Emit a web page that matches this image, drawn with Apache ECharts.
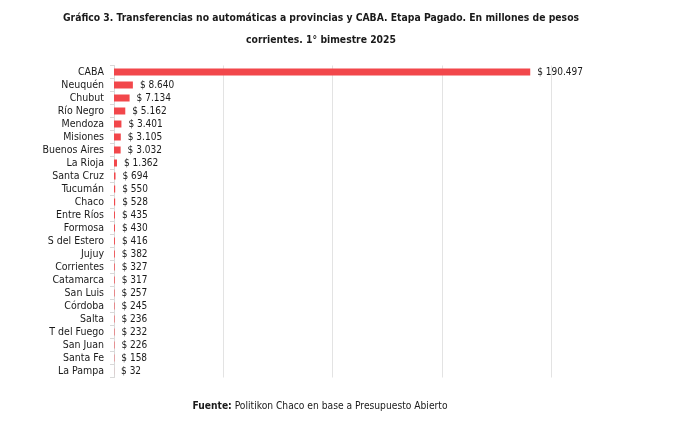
<!DOCTYPE html>
<html>
<head>
<meta charset="utf-8">
<script src="https://cdn.jsdelivr.net/npm/echarts@6/dist/echarts.min.js"></script>
<style>
  html, body { margin: 0; padding: 0; background: #fff; }
  #chart { width: 675px; height: 429px; }
</style>
</head>
<body>
<div id="chart"></div>
<script>
// provincias (orden del gráfico)
const provincias = ['CABA', 'Neuquén', 'Chubut', 'Río Negro', 'Mendoza', 'Misiones', 'Buenos Aires', 'La Rioja',
  'Santa Cruz', 'Tucumán', 'Chaco', 'Entre Ríos', 'Formosa', 'S del Estero', 'Jujuy', 'Corrientes',
  'Catamarca', 'San Luis', 'Córdoba', 'Salta', 'T del Fuego', 'San Juan', 'Santa Fe', 'La Pampa']

// millones de pesos, etapa pagado
const montos = [190497, 8640, 7134, 5162, 3401, 3105, 3032, 1362,
  694, 550, 528, 435, 430, 416, 382, 327,
  317, 257, 245, 236, 232, 226, 158, 32]

// eje x (sin etiquetas visibles)
const ejeMin = 0
const ejeMax = 200000
const ejePaso = 50000

const fuente = "'Liberation Sans Narrow', 'DejaVu Sans Condensed', sans-serif"

// formato con punto de miles
function pesos(v) {
  return '$ ' + String(v).replace(/\B(?=(\d{3})+(?!\d))/g, '.')
}

const myChart = echarts.init(document.getElementById('chart'), null, { renderer: 'canvas' })

const option = {
  animation: false,
  textStyle: { fontFamily: fuente },
  title: [{
    text: 'Gráfico 3. Transferencias no automáticas a provincias y CABA. Etapa Pagado. En millones de pesos\ncorrientes. 1° bimestre 2025',
    left: 316,
    top: 2,
    textAlign: 'center',
    textStyle: { fontFamily: fuente, fontSize: 10.3, fontWeight: 'bold', color: '#1a1a1a', lineHeight: 22 }
  }, {
    text: '{b|Fuente:} Politikon Chaco en base a Presupuesto Abierto',
    left: 315,
    top: 396,
    textAlign: 'center',
    textStyle: {
      fontFamily: fuente, fontSize: 10.2, fontWeight: 'normal', color: '#1a1a1a',
      rich: { b: { fontFamily: fuente, fontSize: 10.2, fontWeight: 'bold', color: '#1a1a1a' } }
    }
  }],
  grid: { left: 114, right: 124, top: 65.5, height: 312, containLabel: false },
  xAxis: {
    type: 'value',
    min: ejeMin,
    max: ejeMax,
    interval: ejePaso,
    axisLabel: { show: false },
    axisLine: { show: false },
    axisTick: { show: false },
    splitLine: { show: true, lineStyle: { color: '#e3e3e3', width: 1 } }
  },
  yAxis: {
    type: 'category',
    inverse: true,
    data: provincias,
    axisLine: { show: true, lineStyle: { color: '#d9d9d9' } },
    axisTick: { show: true, interval: 0, length: 4, lineStyle: { color: '#d9d9d9' } },
    axisLabel: { interval: 0, color: '#1a1a1a', fontSize: 10.5, margin: 10, fontFamily: fuente }
  },
  series: [{
    type: 'bar',
    data: montos,
    barWidth: 7,
    itemStyle: { color: '#f2474b' },
    label: {
      show: true,
      position: 'right',
      distance: 7,
      color: '#1a1a1a',
      fontSize: 10,
      fontFamily: fuente,
      formatter: p => pesos(p.value)
    }
  }]
}

myChart.setOption(option)
</script>
</body>
</html>
